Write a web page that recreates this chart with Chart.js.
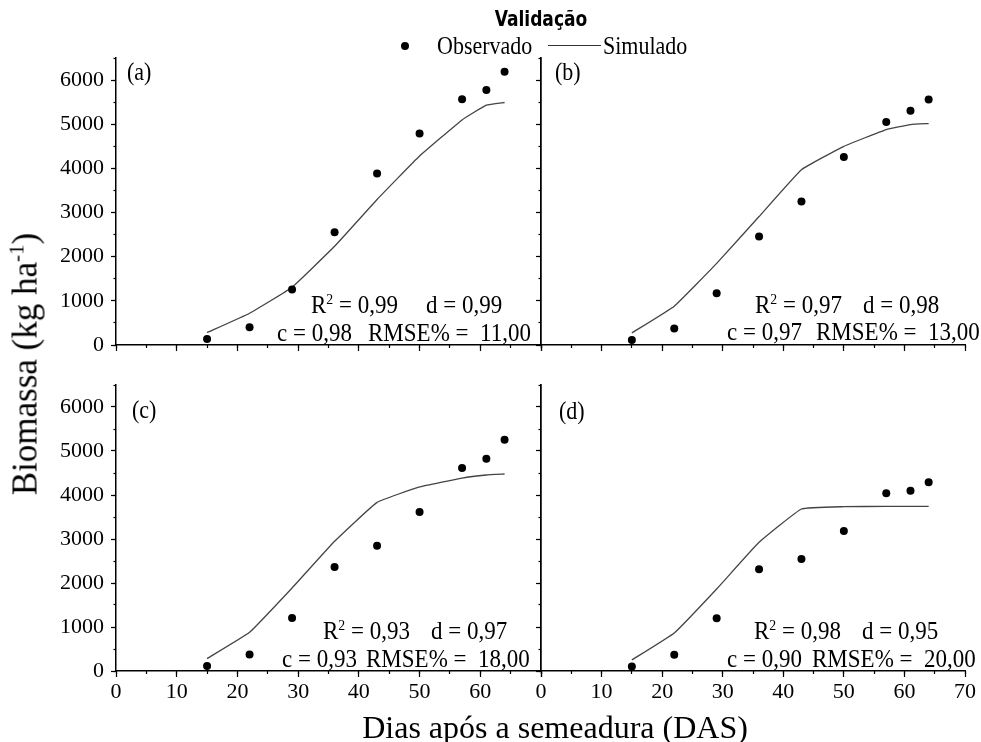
<!DOCTYPE html>
<html lang="pt">
<head>
<meta charset="utf-8">
<title>Validação - Biomassa</title>
<script src="https://cdn.jsdelivr.net/npm/chart.js"></script>
<style>
    body { margin: 0; background: #fff; }
    #figura { position: relative; width: 981px; height: 742px; background: #fff; overflow: hidden; }
    #figura canvas { position: absolute; }
    .txt {
        position: absolute;
        font-family: "Liberation Serif", "Times New Roman", serif;
        color: #000;
        white-space: nowrap;
        line-height: 1;
        transform: translateY(-50%) scaleY(1.12);
    }
    .txt sup { font-size: 0.6em; position: relative; top: -0.6em; vertical-align: baseline; }
    .est { font-size: 23px; }
    .letra { font-size: 22px; }
</style>
</head>
<body>
<div id="figura">
    <canvas id="painelA" width="560" height="370" style="left:0;top:0"></canvas>
    <canvas id="painelB" width="461" height="370" style="left:520px;top:0"></canvas>
    <canvas id="painelC" width="560" height="382" style="left:0;top:360px"></canvas>
    <canvas id="painelD" width="461" height="382" style="left:520px;top:360px"></canvas>

    <!-- Título e legenda -->
    <div class="txt" style="left:541px;top:19px;transform:translate(-50%,-50%) scaleY(1.1);font-family:'Liberation Sans Narrow','DejaVu Sans Condensed',sans-serif;font-weight:bold;font-size:19px">Validação</div>
    <div style="position:absolute;left:401px;top:42px;width:8px;height:8px;border-radius:50%;background:#000"></div>
    <div class="txt" style="left:437px;top:46px;font-size:22px">Observado</div>
    <div style="position:absolute;left:548px;top:45px;width:53px;height:1px;background:#333"></div>
    <div class="txt" style="left:603px;top:46px;font-size:22px">Simulado</div>

    <!-- Letras dos painéis -->
    <div class="txt letra" style="left:127px;top:72px">(a)</div>
    <div class="txt letra" style="left:555px;top:72px">(b)</div>
    <div class="txt letra" style="left:132px;top:410px">(c)</div>
    <div class="txt letra" style="left:559px;top:411px">(d)</div>

    <!-- Estatísticas -->
    <div class="txt est" style="left:311px;top:305px">R<sup>2</sup> = 0,99</div>
    <div class="txt est" style="left:426px;top:305px">d = 0,99</div>
    <div class="txt est" style="left:277px;top:333px">c = 0,98</div>
    <div class="txt est" style="left:368px;top:333px">RMSE% =&nbsp; 11,00</div>

    <div class="txt est" style="left:755px;top:305px">R<sup>2</sup> = 0,97</div>
    <div class="txt est" style="left:863px;top:305px">d = 0,98</div>
    <div class="txt est" style="left:727px;top:332px">c = 0,97</div>
    <div class="txt est" style="left:816px;top:332px">RMSE% =&nbsp; 13,00</div>

    <div class="txt est" style="left:323px;top:631px">R<sup>2</sup> = 0,93</div>
    <div class="txt est" style="left:431px;top:631px">d = 0,97</div>
    <div class="txt est" style="left:282px;top:659px">c = 0,93</div>
    <div class="txt est" style="left:366px;top:659px">RMSE% =&nbsp; 18,00</div>

    <div class="txt est" style="left:754px;top:631px">R<sup>2</sup> = 0,98</div>
    <div class="txt est" style="left:862px;top:631px">d = 0,95</div>
    <div class="txt est" style="left:727px;top:659px">c = 0,90</div>
    <div class="txt est" style="left:812px;top:659px">RMSE% =&nbsp; 20,00</div>

    <!-- Títulos dos eixos -->
    <div class="txt" style="left:25px;top:364px;font-size:35px;transform:translate(-50%,-50%) rotate(-90deg)">Biomassa (kg ha<sup>-1</sup>)</div>
    <div class="txt" style="left:555px;top:727px;font-size:32px;transform:translate(-50%,-50%)">Dias após a semeadura (DAS)</div>
</div>

<script>
// Dias de avaliação (DAS)
const dias = [15, 22, 29, 36, 43, 50, 57, 61, 64];

// Biomassa observada e simulada (kg ha-1) por painel
const obsA = [136, 400, 1258, 2553, 3886, 4788, 5568, 5773, 6189];
const simA = [280, 720, 1310, 2235, 3295, 4280, 5098, 5432, 5492];
const obsB = [114, 371, 1174, 2455, 3250, 4258, 5053, 5303, 5560];
const simB = [273, 879, 1848, 2909, 3970, 4500, 4879, 4992, 5015];
const obsC = [114, 373, 1205, 2364, 2848, 3614, 4614, 4826, 5258];
const simC = [282, 879, 1886, 2947, 3833, 4182, 4386, 4455, 4477];
const obsD = [105, 370, 1197, 2311, 2545, 3182, 4038, 4098, 4288];
const simD = [250, 864, 1864, 2924, 3682, 3735, 3740, 3740, 3740];

// Eixos
const limitesX = [0, 70];
const limitesY = [0, 6500];
const passoX = 10;
const passoY = 1000;

const FONTE = '"Liberation Serif", "Times New Roman", serif';

function criarPainel(id, obs, sim, cfg) {
    const ctx = document.getElementById(id).getContext('2d');

    const scales = {
        x: {
            type: 'linear', position: 'bottom', min: limitesX[0], max: limitesX[1], weight: 1,
            ticks: {
                stepSize: passoX, autoSkip: false, maxRotation: 0, padding: 2,
                display: cfg.rotulosX, color: '#000',
                font: { family: FONTE, size: 22 },
                callback: v => (v === 70 && !cfg.mostra70) ? '' : v
            },
            grid: { drawOnChartArea: false, tickLength: 6, tickColor: '#000', tickWidth: 1.2 },
            border: { color: '#000', width: 1.5 },
            afterFit: s => { s.height = cfg.alturaX; }
        },
        // marcas menores do eixo x
        xm: {
            type: 'linear', position: 'bottom', min: limitesX[0], max: limitesX[1], weight: 0,
            ticks: { stepSize: passoX / 2, autoSkip: false, display: false },
            grid: { drawOnChartArea: false, tickLength: 3, tickColor: '#000', tickWidth: 1.2 },
            border: { display: false },
            afterFit: s => { s.height = 0; }
        },
        y: {
            type: 'linear', position: 'left', min: limitesY[0], max: limitesY[1], weight: 1,
            ticks: {
                stepSize: passoY / 2, autoSkip: false, padding: 7,
                display: cfg.rotulosY, color: '#000',
                font: { family: FONTE, size: 22 },
                callback: v => v % passoY === 0 ? v : ''
            },
            grid: {
                drawOnChartArea: false, tickLength: 5, tickWidth: 1.2,
                tickColor: c => c.tick && c.tick.value % passoY === 0 ? '#000' : 'rgba(0,0,0,0)'
            },
            border: { color: '#000', width: 1.5 },
            afterFit: s => { s.width = cfg.larguraY; }
        },
        // marcas menores do eixo y
        ym: {
            type: 'linear', position: 'left', min: limitesY[0], max: limitesY[1], weight: 0,
            ticks: { stepSize: passoY / 2, autoSkip: false, display: false },
            grid: { drawOnChartArea: false, tickLength: 2.5, tickColor: '#000', tickWidth: 1.2 },
            border: { display: false },
            afterFit: s => { s.width = 0; }
        }
    };

    if (cfg.eixoDireito) {
        scales.y2 = {
            type: 'linear', position: 'right', min: limitesY[0], max: limitesY[1],
            ticks: { display: false },
            grid: { display: false },
            border: { color: '#000', width: 1.5 },
            afterFit: s => { s.width = cfg.larguraDir; }
        };
    }

    return new Chart(ctx, {
        type: 'scatter',
        data: {
            datasets: [
                {
                    label: 'Observado',
                    data: dias.map((d, i) => ({ x: d, y: obs[i] })),
                    pointRadius: 4,
                    pointBackgroundColor: '#000',
                    pointBorderWidth: 0,
                    xAxisID: 'x', yAxisID: 'y'
                },
                {
                    label: 'Simulado',
                    data: dias.map((d, i) => ({ x: d, y: sim[i] })),
                    showLine: true,
                    pointRadius: 0,
                    borderColor: '#444',
                    borderWidth: 1.3,
                    tension: 0.1,
                    xAxisID: 'x', yAxisID: 'y'
                }
            ]
        },
        options: {
            responsive: false,
            animation: false,
            layout: { padding: cfg.padding },
            scales: scales,
            plugins: {
                legend: { display: false },
                tooltip: { enabled: false }
            }
        }
    });
}

criarPainel('painelA', obsA, simA, {
    rotulosX: false, rotulosY: true, mostra70: false, eixoDireito: true,
    alturaX: 25, larguraY: 116, larguraDir: 19,
    padding: { top: 58, left: 0, right: 0, bottom: 0 }
});
criarPainel('painelB', obsB, simB, {
    rotulosX: false, rotulosY: false, mostra70: false, eixoDireito: false,
    alturaX: 25, larguraY: 21,
    padding: { top: 58, left: 0, right: 16, bottom: 0 }
});
criarPainel('painelC', obsC, simC, {
    rotulosX: true, rotulosY: true, mostra70: false, eixoDireito: true,
    alturaX: 71, larguraY: 116, larguraDir: 19,
    padding: { top: 25, left: 0, right: 0, bottom: 0 }
});
criarPainel('painelD', obsD, simD, {
    rotulosX: true, rotulosY: false, mostra70: true, eixoDireito: false,
    alturaX: 71, larguraY: 21,
    padding: { top: 25, left: 0, right: 16, bottom: 0 }
});
</script>
</body>
</html>
